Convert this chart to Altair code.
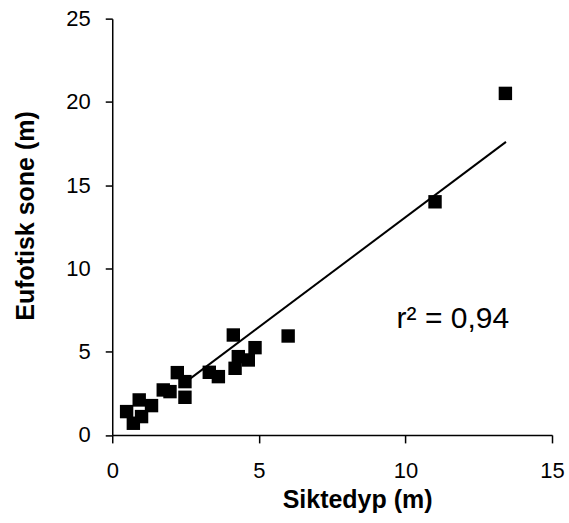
import altair as alt
import pandas as pd

siktedyp = [0.49, 0.72, 0.92, 1.00, 1.34, 1.74, 1.97, 2.22, 2.48, 2.48,
            3.31, 3.62, 4.13, 4.19, 4.30, 4.64, 4.87, 6.00, 11.01, 13.41]
eufotisk = [1.40, 0.70, 2.10, 1.10, 1.76, 2.70, 2.60, 3.74, 3.20, 2.26,
            3.76, 3.50, 6.00, 4.00, 4.70, 4.50, 5.24, 5.94, 14.00, 20.51]
trend_x = [2.5, 13.43]
trend_y = [3.17, 17.60]
x_ticks = [0, 5, 10, 15]
y_ticks = [0, 5, 10, 15, 20, 25]
label_text = ["r² = 0,94"]
label_x = [9.70]
label_y = [6.40]

FONT = "Liberation Sans"

pts = pd.DataFrame({"x": siktedyp, "y": eufotisk})
trend = pd.DataFrame({"x": trend_x, "y": trend_y})
lab = pd.DataFrame({"x": label_x, "y": label_y, "t": label_text})

xscale = alt.Scale(domain=[0, 15], nice=False, zero=False)
yscale = alt.Scale(domain=[0, 25], nice=False, zero=False)

xaxis = alt.Axis(
    title="Siktedyp (m)", values=x_ticks, grid=False, labelFlush=False,
    domainColor="black", domainWidth=1.5, tickColor="black", tickWidth=1.5,
    tickSize=8, labelFontSize=22, labelFont=FONT, labelColor="black",
    labelPadding=18, titleFont=FONT, titleFontSize=25, titleFontWeight="bold",
    titleColor="black", titleX=245, titleY=73, titleBaseline="alphabetic",
    titleAlign="center", titleAnchor="start",
)
yaxis = alt.Axis(
    title="Eufotisk sone (m)", values=y_ticks, grid=False, labelFlush=False,
    domainColor="black", domainWidth=1.5, tickColor="black", tickWidth=1.5,
    tickSize=7, labelFontSize=22, labelFont=FONT, labelColor="black",
    labelPadding=15, titleFont=FONT, titleFontSize=25, titleFontWeight="bold",
    titleColor="black", titleX=-79, titleY=197, titleAngle=270,
    titleBaseline="alphabetic", titleAlign="center", titleAnchor="start",
)

points = alt.Chart(pts).mark_square(size=180, color="black", opacity=1).encode(
    x=alt.X("x:Q", scale=xscale, axis=xaxis),
    y=alt.Y("y:Q", scale=yscale, axis=yaxis),
)
line = alt.Chart(trend).mark_line(color="black", strokeWidth=2).encode(
    x=alt.X("x:Q", scale=xscale),
    y=alt.Y("y:Q", scale=yscale),
)
text = alt.Chart(lab).mark_text(
    font=FONT, fontSize=30, align="left", baseline="alphabetic", color="black"
).encode(
    x=alt.X("x:Q", scale=xscale),
    y=alt.Y("y:Q", scale=yscale),
    text="t:N",
)

chart = (line + points + text).properties(
    width=440, height=416.5,
    autosize=alt.AutoSizeParams(type="none"),
    padding={"left": 112.3, "top": 18.5, "right": 17, "bottom": 88},
    background="white",
).configure_view(stroke=None)

chart.save("out.html", embed_options={"renderer": "svg", "actions": False})
